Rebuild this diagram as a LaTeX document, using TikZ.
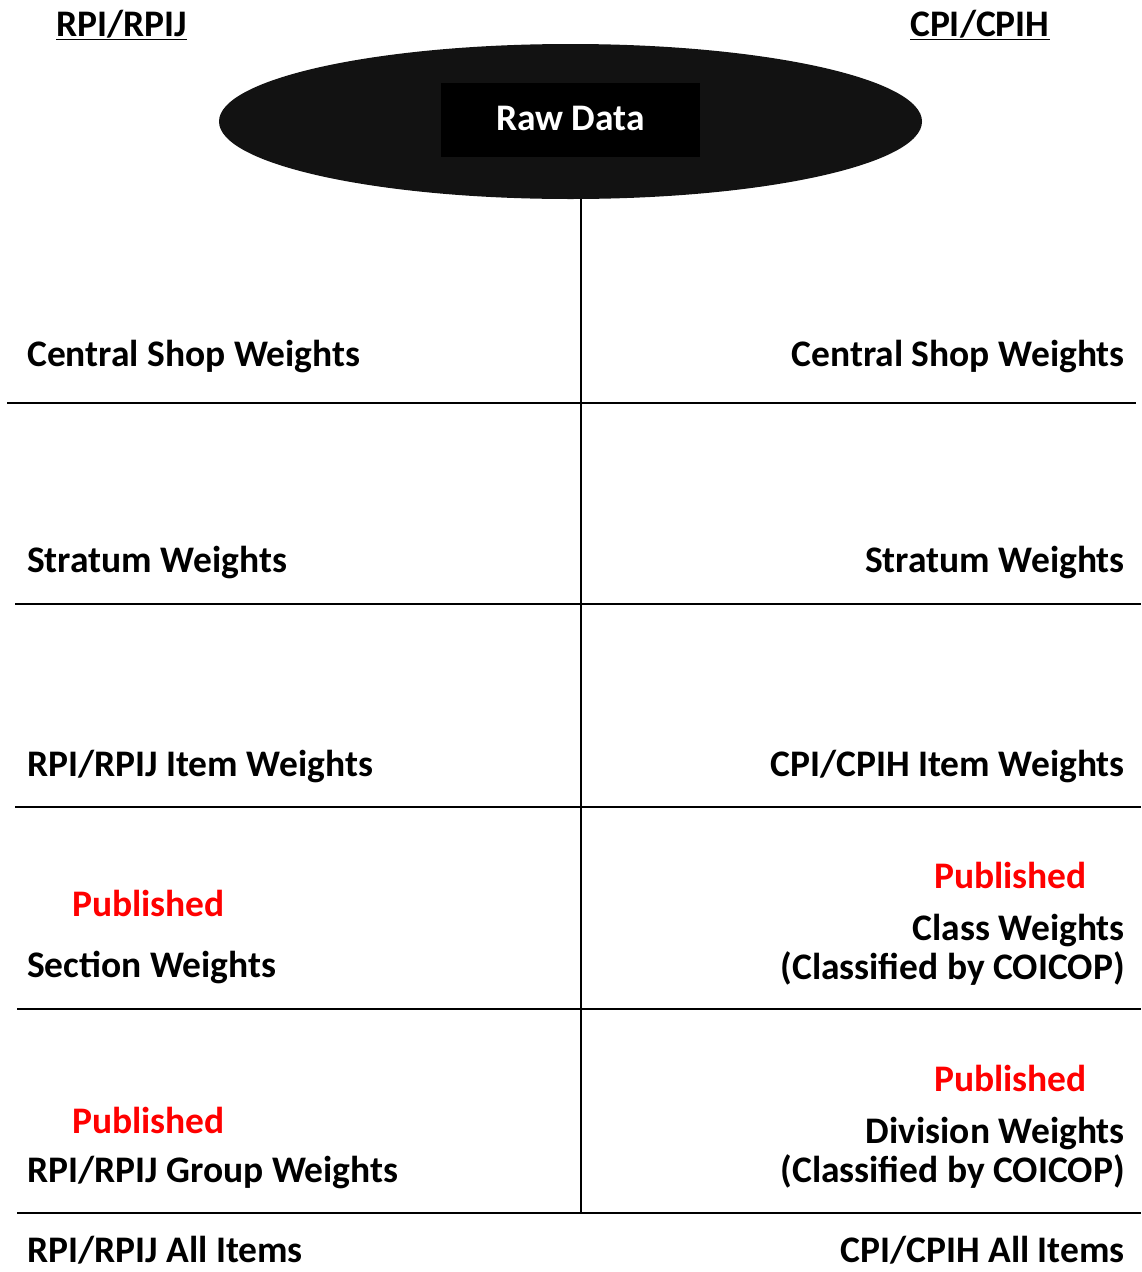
\documentclass[tikz,border=0pt]{standalone}
\usepackage{fontspec}
\setmainfont{Carlito}
\usepackage{tikz}
\usetikzlibrary{shapes.geometric}
\definecolor{pubred}{RGB}{255,0,0}

\begin{document}
\begin{tikzpicture}[x=1pt,y=-1pt]

\tikzstyle{lbl}=[inner sep=0pt, font=\fontsize{37.5}{45}\selectfont\bfseries]
\tikzstyle{lft}=[lbl, anchor=base west]
\tikzstyle{rgt}=[lbl, anchor=base east]
\tikzstyle{pub}=[lbl, text=pubred]
\tikzstyle{rule}=[line width=1.6pt]

\useasboundingbox (0,0) rectangle (1141,1272);

\node[lft] at (56,36)    (hdRPI) {\underline{RPI/RPIJ}};
\node[lft] at (910,36)   (hdCPI) {\underline{CPI/CPIH}};

\node[ellipse, fill=black!93, minimum width=703pt, minimum height=155pt, inner sep=0pt] at (570.5,121.5) (raw) {};
\node[lbl, fill=black, text=white, minimum width=259pt, minimum height=74pt, text depth=4pt] at (570.5,120) (rawbox) {Raw Data};

\coordinate (spinebot) at (581,1213);
\draw[rule] (raw.south -| spinebot) -- (spinebot);

\node[lft] at (27,366)    (shopL) {Central Shop Weights};
\node[rgt] at (1125,366)  (shopR) {Central Shop Weights};
\draw[rule] (7,403) -- (1136,403);

\node[lft] at (27,572)    (stratL) {Stratum Weights};
\node[rgt] at (1125,572)  (stratR) {Stratum Weights};
\draw[rule] (15,604) -- (1141,604);

\node[lft] at (27,776)    (itemL) {RPI/RPIJ Item Weights};
\node[rgt] at (1125,776)  (itemR) {CPI/CPIH Item Weights};
\draw[rule] (15,807) -- (1141,807);

\node[pub, anchor=base west] at (72,916)   (pubSec) {Published};
\node[lft] at (27,977)    (secL) {Section Weights};
\node[pub, anchor=base east] at (1087,888) (pubCls) {Published};
\node[rgt] at (1125,940)  (clsR) {Class Weights};
\node[rgt] at (1125,979)  (clsC) {(Classified by COICOP)};
\draw[rule] (17,1009) -- (1141,1009);

\node[pub, anchor=base west] at (72,1133)  (pubGrp) {Published};
\node[lft] at (27,1182)   (grpL) {RPI/RPIJ Group Weights};
\node[pub, anchor=base east] at (1087,1091) (pubDiv) {Published};
\node[rgt] at (1125,1143) (divR) {Division Weights};
\node[rgt] at (1125,1182) (divC) {(Classified by COICOP)};
\draw[rule] (17,1213) -- (1141,1213);

\node[lft] at (27,1262)   (allL) {RPI/RPIJ All Items};
\node[rgt] at (1125,1262) (allR) {CPI/CPIH All Items};

\end{tikzpicture}
\end{document}
